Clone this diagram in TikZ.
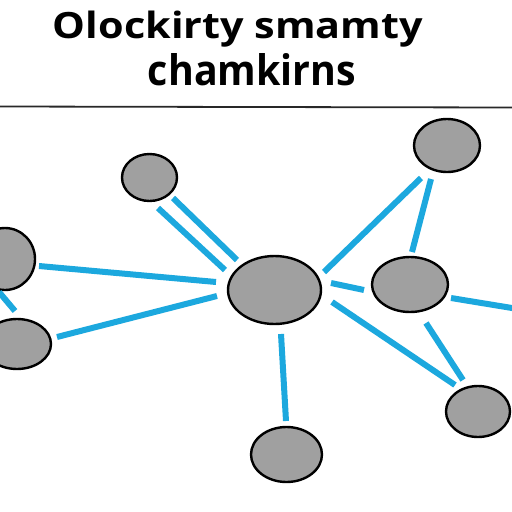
\documentclass[tikz,border=0pt]{standalone}
\usepackage{fontspec}
\setmainfont{Open Sans}
\usetikzlibrary{shapes.geometric}
\definecolor{nodegray}{RGB}{160,160,160}
\definecolor{edgeblue}{RGB}{28,168,222}
\definecolor{rulegray}{RGB}{40,40,40}
\tikzset{
  blob/.style={ellipse, draw=black, line width=2.4pt, fill=nodegray, inner sep=0pt},
  link/.style={draw=edgeblue, line width=6pt, line cap=butt},
  title/.style={anchor=base, inner sep=0pt, font=\fontsize{38}{40}\selectfont\bfseries, text=black}
}
\begin{document}
\begin{tikzpicture}[x=1pt, y=-1pt]
\useasboundingbox[fill=white] (0,0) rectangle (512,512);
% title
\node[title] (t1) at (238,38) {\resizebox{370pt}{27.5pt}{Olockirty smamty}};
\node[title] (t2) at (252,85) {\resizebox{208pt}{32pt}{chamkirns}};
\draw[rulegray, line width=1.8pt] (0,106.5) -- (512,107.5);
% nodes
\node[blob, minimum width=55pt, minimum height=47pt] (A) at (149.5,177.5) {};
\node[blob, minimum width=60pt, minimum height=62pt] (L) at (5,259) {};
\node[blob, minimum width=68pt, minimum height=50pt] (BL) at (17,344) {};
\node[blob, minimum width=93pt, minimum height=68pt] (C) at (274.5,290) {};
\node[blob, minimum width=76pt, minimum height=55pt] (R) at (410,284.5) {};
\node[blob, minimum width=66pt, minimum height=53pt] (TR) at (447,145.5) {};
\node[blob, minimum width=71pt, minimum height=55pt] (B) at (286.5,454.5) {};
\node[blob, minimum width=64pt, minimum height=51pt] (BR) at (478,411.5) {};
\coordinate (edgeR) at (515,308.5);
% connectors
\draw[link] ([shift={(8.5,30.5)}]A.center) -- ([shift={(-49.5,-20)}]C.center);
\draw[link] ([shift={(23.5,20.5)}]A.center) -- ([shift={(-37.5,-30)}]C.center);
\draw[link] ([shift={(34,7)}]L.center) -- ([shift={(-58.5,-8)}]C.center);
\draw[link] ([shift={(40,-7)}]BL.center) -- ([shift={(-57.5,6)}]C.center);
\draw[link] ([shift={(-6,33)}]L.center) -- ([shift={(-2,-33)}]BL.center);
\draw[link] ([shift={(49.5,-18)}]C.center) -- ([shift={(-26,32.5)}]TR.center);
\draw[link] ([shift={(-16,33.5)}]TR.center) -- ([shift={(2,-32.5)}]R.center);
\draw[link] ([shift={(56.5,-7)}]C.center) -- ([shift={(-46,5.5)}]R.center);
\draw[link] ([shift={(57.5,12)}]C.center) -- ([shift={(-23,-26.5)}]BR.center);
\draw[link] ([shift={(16,38.5)}]R.center) -- ([shift={(-15,-31.5)}]BR.center);
\draw[link] ([shift={(41,13.5)}]R.center) -- (edgeR);
\draw[link] ([shift={(6.5,44)}]C.center) -- ([shift={(-0.5,-33.5)}]B.center);
\end{tikzpicture}
\end{document}
